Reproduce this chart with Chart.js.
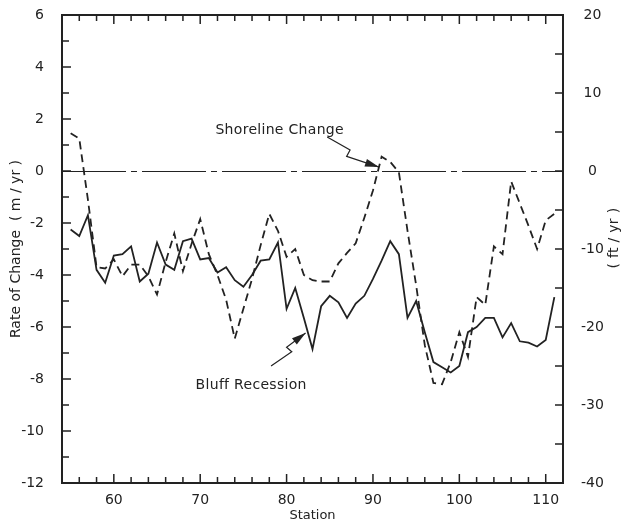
<!DOCTYPE html>
<html>
<head>
<meta charset="utf-8">
<script src="https://cdn.jsdelivr.net/npm/chart.js@4.4.0/dist/chart.umd.min.js"></script>
<style>
  html, body { margin: 0; background: #fff; }
  #wrap { width: 624px; height: 523px; position: relative; }
</style>
</head>
<body>
<div id="wrap"><canvas id="rates"></canvas></div>
<script>
// Profile stations along the shore
const stations = [55, 56, 57, 58, 59, 60, 61, 62, 63, 64, 65, 66, 67, 68, 69, 70,
  71, 72, 73, 74, 75, 76, 77, 78, 79, 80, 81, 82, 83, 84, 85, 86, 87, 88, 89, 90,
  91, 92, 93, 94, 95, 96, 97, 98, 99, 100, 101, 102, 103, 104, 105, 106, 107, 108,
  109, 110, 111];

// Rate of change, m/yr
const bluffRecession = [-2.25, -2.5, -1.7, -3.8, -4.3, -3.25, -3.2, -2.9, -4.25, -3.95,
  -2.75, -3.6, -3.8, -2.7, -2.6, -3.4, -3.35, -3.9, -3.7, -4.2, -4.45, -4.0, -3.45, -3.4,
  -2.75, -5.3, -4.5, -5.65, -6.85, -5.2, -4.8, -5.05, -5.65, -5.1, -4.8, -4.15, -3.45,
  -2.7, -3.2, -5.65, -5.0, -6.2, -7.35, -7.55, -7.75, -7.5, -6.2, -6.0, -5.65, -5.65,
  -6.4, -5.85, -6.55, -6.6, -6.75, -6.5, -4.85];

const shorelineChange = [1.45, 1.25, -1.1, -3.7, -3.75, -3.4, -4.05, -3.6, -3.6, -4.05,
  -4.75, -3.5, -2.4, -3.85, -2.8, -1.85, -3.2, -4.0, -4.95, -6.45, -5.3, -4.15, -2.85,
  -1.65, -2.3, -3.3, -3.0, -4.0, -4.2, -4.25, -4.25, -3.55, -3.15, -2.78, -1.8, -0.75,
  0.55, 0.35, -0.05, -2.3, -4.4, -6.7, -8.15, -8.2, -7.35, -6.2, -7.15, -4.85, -5.15,
  -2.9, -3.2, -0.4, -1.25, -2.1, -3.0, -1.9, -1.65];

// Labelled ticks
const stationTicks = [60, 70, 80, 90, 100, 110];
const meterTicks = [-12, -10, -8, -6, -4, -2, 0, 2, 4, 6];
const feetTicks = [-40, -30, -20, -10, 0, 10, 20];

const INK = '#222';
const FONT = '"DejaVu Sans", sans-serif';

// Callouts: text position and arrow path, in station / m units
const callouts = [
  { text: 'Shoreline Change', at: [79.2, 1.58],
    path: [[84.7, 1.31], [87.35, 0.81], [86.95, 0.56], [90.7, 0.15]] },
  { text: 'Bluff Recession', at: [75.9, -8.23],
    path: [[78.2, -7.5], [80.6, -6.95], [80.0, -6.78], [82.2, -6.23]] },
];

const toPoints = ys => ys.map((y, i) => ({ x: stations[i], y }));

function drawArrow(ctx, pts) {
  ctx.beginPath();
  pts.forEach((p, i) => i ? ctx.lineTo(p[0], p[1]) : ctx.moveTo(p[0], p[1]));
  ctx.stroke();
  const [x1, y1] = pts[pts.length - 2], [x2, y2] = pts[pts.length - 1];
  const a = Math.atan2(y2 - y1, x2 - x1), len = 14, w = 4;
  ctx.beginPath();
  ctx.moveTo(x2, y2);
  ctx.lineTo(x2 - len * Math.cos(a) + w * Math.sin(a), y2 - len * Math.sin(a) - w * Math.cos(a));
  ctx.lineTo(x2 - len * Math.cos(a) - w * Math.sin(a), y2 - len * Math.sin(a) + w * Math.cos(a));
  ctx.closePath();
  ctx.fill();
}

// vertical axes: fixed width, no extra room for the end labels
const fitY = w => s => { s.width = w; s.paddingTop = 0; s.paddingBottom = 0; };

const framePlugin = {
  id: 'frame',
  beforeDatasetsDraw(chart) {
    // dash-dot zero line (snapped to the pixel grid so it stays sharp)
    const { ctx, chartArea: a, scales: { y } } = chart;
    const y0 = Math.round(y.getPixelForValue(0)) + 0.5;
    ctx.save();
    ctx.strokeStyle = INK;
    ctx.lineWidth = 1;
    ctx.setLineDash([64, 5, 6, 5]);
    ctx.beginPath();
    ctx.moveTo(a.left, y0);
    ctx.lineTo(a.right, y0);
    ctx.stroke();
    ctx.restore();
  },
  afterDatasetsDraw(chart) {
    const { ctx, chartArea: a, scales: { x, y, y2 } } = chart;
    ctx.save();
    ctx.strokeStyle = INK;
    ctx.fillStyle = INK;

    // box
    ctx.lineWidth = 2;
    ctx.strokeRect(a.left, a.top, a.right - a.left, a.bottom - a.top);

    // inward ticks
    ctx.lineWidth = 1.5;
    ctx.beginPath();
    for (let s = 56; s < 112; s += 2) {
      const px = x.getPixelForValue(s), l = s % 10 === 0 ? 9 : 6;
      ctx.moveTo(px, a.bottom); ctx.lineTo(px, a.bottom - l);
      ctx.moveTo(px, a.top); ctx.lineTo(px, a.top + l);
    }
    for (let m = -11; m < 6; m++) {
      const py = y.getPixelForValue(m);
      ctx.moveTo(a.left, py); ctx.lineTo(a.left + (m % 2 === 0 ? 9 : 7), py);
    }
    for (let f = -35; f < 20; f += 5) {
      const py = y2.getPixelForValue(f);
      ctx.moveTo(a.right, py); ctx.lineTo(a.right - 8, py);
    }
    ctx.stroke();

    // callouts
    ctx.font = '14px ' + FONT;
    ctx.letterSpacing = '0.3px';
    ctx.textAlign = 'center';
    ctx.textBaseline = 'middle';
    ctx.lineWidth = 1.2;
    callouts.forEach(c => {
      ctx.fillText(c.text, x.getPixelForValue(c.at[0]), y.getPixelForValue(c.at[1]));
      drawArrow(ctx, c.path.map(p => [x.getPixelForValue(p[0]), y.getPixelForValue(p[1])]));
    });

    // right axis title reads bottom-to-top like the left one
    ctx.translate(chart.width - 10, y2.getPixelForValue(-8.6));
    ctx.rotate(-Math.PI / 2);
    ctx.fillText('( ft / yr )', 0, 0);
    ctx.restore();
  },
};

new Chart(document.getElementById('rates'), {
  type: 'line',
  data: {
    datasets: [
      { label: 'Bluff Recession', data: toPoints(bluffRecession), yAxisID: 'y',
        borderColor: INK, borderWidth: 1.8, pointRadius: 0, tension: 0 },
      { label: 'Shoreline Change', data: toPoints(shorelineChange), yAxisID: 'y',
        borderColor: INK, borderWidth: 1.8, borderDash: [8, 5], pointRadius: 0, tension: 0 },
    ],
  },
  options: {
    responsive: true, maintainAspectRatio: false, animation: false,
    layout: { padding: { top: 15, left: 0, right: 0, bottom: 0 } },
    plugins: { legend: { display: false }, tooltip: { enabled: false } },
    scales: {
      x: {
        type: 'linear', min: 54, max: 112,
        afterBuildTicks: s => { s.ticks = stationTicks.map(v => ({ value: v })); },
        afterFit: s => { s.height = 40; },
        grid: { display: false }, border: { display: false },
        ticks: { color: INK, font: { family: FONT, size: 14 }, padding: 1, maxRotation: 0 },
        title: { display: true, text: 'Station', color: INK, font: { family: FONT, size: 13 },
                 padding: { top: 0, bottom: 0 } },
      },
      y: {
        position: 'left', min: -12, max: 6,
        afterBuildTicks: s => { s.ticks = meterTicks.map(v => ({ value: v })); },
        afterFit: fitY(62),
        grid: { display: false }, border: { display: false },
        ticks: { color: INK, font: { family: FONT, size: 14 }, padding: 10 },
        title: { display: true, text: 'Rate of Change  ( m / yr )', color: INK,
                 font: { family: FONT, size: 14 }, padding: { top: 8, bottom: 0 } },
      },
      y2: {
        position: 'right', min: -40, max: 20,
        afterBuildTicks: s => { s.ticks = feetTicks.map(v => ({ value: v })); },
        afterFit: fitY(61),
        grid: { display: false }, border: { display: false },
        ticks: { color: INK, font: { family: FONT, size: 14 }, padding: 10, crossAlign: 'center' },
      },
    },
  },
  plugins: [framePlugin],
});
</script>
</body>
</html>
